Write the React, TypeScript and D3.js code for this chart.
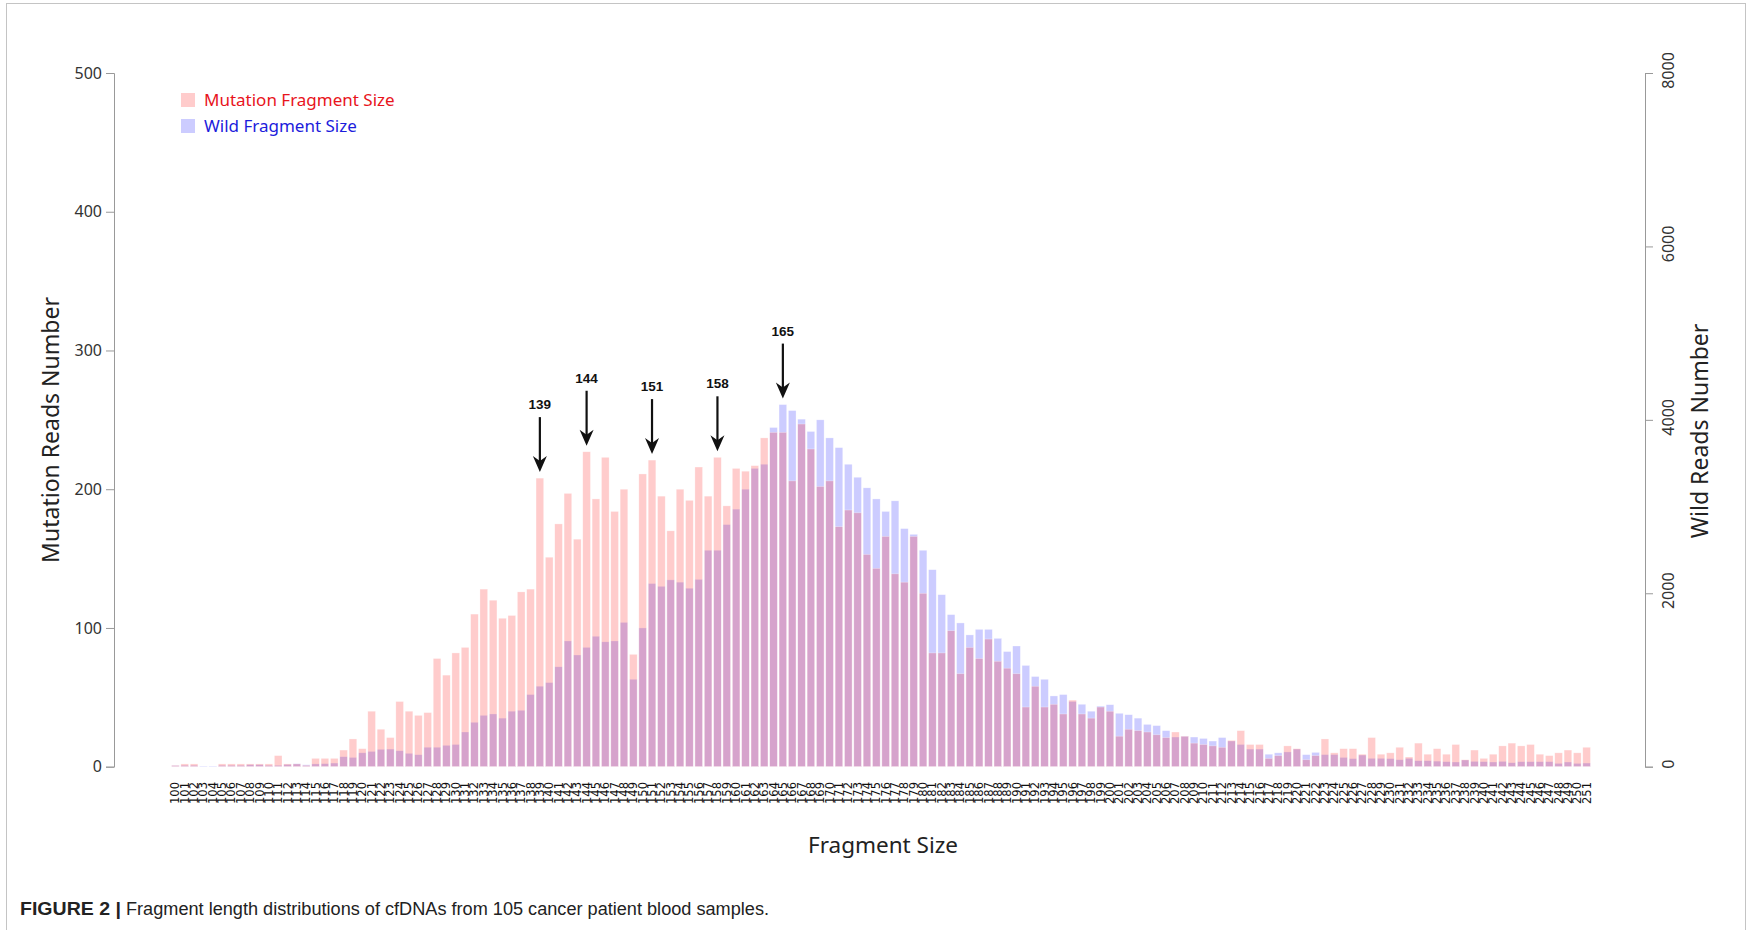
import React, { useEffect, useRef } from "react";
import * as d3 from "d3";

// fragment sizes 100..251
const sizes = [
  100, 101, 102, 103, 104, 105, 106, 107, 108, 109,
  110, 111, 112, 113, 114, 115, 116, 117, 118, 119,
  120, 121, 122, 123, 124, 125, 126, 127, 128, 129,
  130, 131, 132, 133, 134, 135, 136, 137, 138, 139,
  140, 141, 142, 143, 144, 145, 146, 147, 148, 149,
  150, 151, 152, 153, 154, 155, 156, 157, 158, 159,
  160, 161, 162, 163, 164, 165, 166, 167, 168, 169,
  170, 171, 172, 173, 174, 175, 176, 177, 178, 179,
  180, 181, 182, 183, 184, 185, 186, 187, 188, 189,
  190, 191, 192, 193, 194, 195, 196, 197, 198, 199,
  200, 201, 202, 203, 204, 205, 206, 207, 208, 209,
  210, 211, 212, 213, 214, 215, 216, 217, 218, 219,
  220, 221, 222, 223, 224, 225, 226, 227, 228, 229,
  230, 231, 232, 233, 234, 235, 236, 237, 238, 239,
  240, 241, 242, 243, 244, 245, 246, 247, 248, 249,
  250, 251,
];

// left axis (0-500)
const mutationReads = [
  1, 2, 2, 0, 0, 2, 2, 2, 2, 2,
  2, 8, 2, 2, 1, 6, 6, 6, 12, 20,
  13, 40, 27, 21, 47, 40, 37, 39, 78, 66,
  82, 86, 110, 128, 120, 107, 109, 126, 128, 208,
  151, 175, 197, 164, 227, 193, 223, 184, 200, 81,
  211, 221, 195, 170, 200, 192, 216, 195, 223, 188,
  215, 213, 217, 237, 241, 241, 206, 247, 229, 202,
  206, 173, 185, 183, 153, 143, 166, 139, 133, 166,
  125, 82, 82, 98, 67, 86, 78, 92, 76, 71,
  67, 43, 58, 43, 45, 38, 48, 38, 35, 43,
  40, 22, 27, 26, 25, 23, 21, 25, 22, 17,
  16, 15, 14, 19, 26, 16, 16, 6, 8, 15,
  13, 5, 8, 20, 10, 13, 13, 9, 21, 9,
  10, 14, 7, 17, 9, 13, 9, 16, 5, 12,
  6, 9, 15, 17, 15, 16, 9, 8, 10, 12,
  10, 14,
];

// right axis (0-8000)
const wildReads = [
  16, 16, 16, 8, 8, 16, 16, 16, 24, 24,
  16, 16, 27, 35, 22, 32, 35, 42, 115, 107,
  160, 176, 200, 203, 184, 154, 138, 224, 224, 246,
  256, 400, 512, 592, 608, 560, 640, 650, 832, 928,
  970, 1152, 1450, 1288, 1376, 1504, 1440, 1450, 1664, 1008,
  1600, 2112, 2080, 2154, 2128, 2058, 2160, 2496, 2496, 2792,
  2970, 3200, 3440, 3488, 3912, 4176, 4107, 4008, 3866, 4000,
  3792, 3680, 3488, 3338, 3216, 3088, 2944, 3066, 2746, 2680,
  2496, 2272, 1984, 1754, 1658, 1520, 1584, 1584, 1480, 1328,
  1392, 1168, 1040, 1008, 816, 832, 752, 720, 640, 699,
  715, 616, 600, 560, 488, 474, 416, 342, 352, 342,
  326, 296, 336, 296, 256, 203, 203, 144, 160, 170,
  203, 139, 165, 139, 139, 107, 93, 134, 96, 96,
  93, 80, 96, 69, 69, 64, 58, 54, 77, 61,
  58, 54, 61, 46, 58, 58, 58, 58, 38, 54,
  38, 42,
];

const peakSizes = [139, 144, 151, 158, 165];
const mutTicks = [0, 100, 200, 300, 400, 500];
const wildTicks = [0, 2000, 4000, 6000, 8000];

const W = 1752;
const H = 930;
const sans = "'Noto Sans', 'Open Sans', sans-serif";
const mutFill = "rgba(255,0,0,0.2)";
const wildFill = "rgba(0,0,255,0.2)";

function App() {
  const leftRef = useRef<SVGGElement>(null);
  const rightRef = useRef<SVGGElement>(null);

  const x = d3
    .scaleBand<number>()
    .domain(sizes)
    .range([170.7, 1591.3])
    .paddingInner(0.18)
    .paddingOuter(0.09);
  const yMut = d3.scaleLinear().domain([0, 500]).range([766.7, 73]);
  const yWild = d3.scaleLinear().domain([0, 8000]).range([766.7, 73]);

  useEffect(() => {
    const left = d3.select(leftRef.current!);
    left.call(d3.axisLeft(yMut).tickValues(mutTicks).tickSize(8).tickPadding(4));
    left.select(".domain").attr("stroke", "#999");
    left.selectAll(".tick line").attr("stroke", "#999");
    left
      .selectAll(".tick text")
      .attr("font-size", 16)
      .attr("font-family", sans)
      .attr("fill", "#333");

    const right = d3.select(rightRef.current!);
    right.call(
      d3.axisRight(yWild).tickValues(wildTicks).tickSize(8).tickFormat(d3.format("d"))
    );
    right.select(".domain").attr("stroke", "#999");
    right.selectAll(".tick line").attr("stroke", "#999");
    right
      .selectAll(".tick text")
      .attr("x", 0)
      .attr("y", 0)
      .attr("dy", "0.35em")
      .attr("transform", "translate(23,-3) rotate(-90)")
      .attr("text-anchor", "middle")
      .attr("font-size", 16)
      .attr("font-family", sans)
      .attr("fill", "#333");
  }, []);

  const bw = x.bandwidth();
  const base = yMut(0);

  return (
    <div style={{ position: "absolute", left: 0, top: 0 }}>
      <svg width={W} height={H} style={{ display: "block", background: "#fff" }}>
        <rect x={6.5} y={3.5} width={1739} height={960} fill="none" stroke="#c4c4c4" />

        {/* wild first, mutation on top */}
        <g>
          {sizes.map((s, i) => (
            <rect
              key={"w" + s}
              x={x(s)}
              y={yWild(wildReads[i])}
              width={bw}
              height={base - yWild(wildReads[i])}
              fill={wildFill}
              stroke="rgba(255,255,255,0.5)"
              strokeWidth={0.6}
            />
          ))}
        </g>
        <g>
          {sizes.map((s, i) => (
            <rect
              key={"m" + s}
              x={x(s)}
              y={yMut(mutationReads[i])}
              width={bw}
              height={base - yMut(mutationReads[i])}
              fill={mutFill}
              stroke="rgba(255,255,255,0.5)"
              strokeWidth={0.6}
            />
          ))}
        </g>

        {/* x tick labels */}
        <g fontFamily="'DejaVu Sans', sans-serif" fontSize={11.5} fill="#111">
          {sizes.map((s) => (
            <text
              key={"t" + s}
              transform={`translate(${x(s)! + bw / 2},782) rotate(-90)`}
              textAnchor="end"
              dy="0.35em"
            >
              {s}
            </text>
          ))}
        </g>

        <g ref={leftRef} transform="translate(114,0)" />
        <g ref={rightRef} transform="translate(1645,0)" />

        {/* peak arrows */}
        <g>
          {peakSizes.map((s) => {
            const i = sizes.indexOf(s);
            const cx = x(s)! + bw / 2;
            const top = Math.min(yMut(mutationReads[i]), yWild(wildReads[i]));
            const tip = top - 6;
            const start = tip - 55;
            return (
              <g key={"a" + s}>
                <line x1={cx} x2={cx} y1={start} y2={tip - 8} stroke="#111" strokeWidth={2.2} />
                <path
                  d={`M${cx - 7},${tip - 16} L${cx},${tip} L${cx + 7},${tip - 16} L${cx},${tip - 11} Z`}
                  fill="#111"
                />
                <text
                  x={cx}
                  y={start - 8}
                  textAnchor="middle"
                  fontFamily="'Liberation Sans', Arial, sans-serif"
                  fontWeight="bold"
                  fontSize={13.5}
                  fill="#111"
                >
                  {s}
                </text>
              </g>
            );
          })}
        </g>

        {/* legend */}
        <g fontFamily={sans} fontSize={17}>
          <rect x={181} y={93} width={14} height={14} fill={mutFill} />
          <text x={204} y={105.5} fill="#e8141c">
            Mutation Fragment Size
          </text>
          <rect x={181} y={119} width={14} height={14} fill={wildFill} />
          <text x={204} y={131.5} fill="#1c1cdc">
            Wild Fragment Size
          </text>
        </g>

        {/* axis titles */}
        <text
          transform="translate(51,430) rotate(-90)"
          textAnchor="middle"
          dy="0.35em"
          fontFamily={sans}
          fontSize={23}
          fill="#222"
        >
          Mutation Reads Number
        </text>
        <text
          transform="translate(1700,431) rotate(-90)"
          textAnchor="middle"
          dy="0.35em"
          fontFamily={sans}
          fontSize={23}
          fill="#222"
        >
          Wild Reads Number
        </text>
        <text
          x={883}
          y={853}
          textAnchor="middle"
          fontFamily={sans}
          fontSize={22.5}
          fill="#222"
        >
          Fragment Size
        </text>

        {/* caption */}
        <g fontFamily="'Liberation Sans Narrow', 'Liberation Sans', Arial, sans-serif" fontSize={17.5} fill="#222">
          <text x={20} y={915} fontWeight="bold" textLength={101} lengthAdjust="spacingAndGlyphs">
            FIGURE 2 |
          </text>
          <text x={126} y={915} textLength={643} lengthAdjust="spacingAndGlyphs">
            Fragment length distributions of cfDNAs from 105 cancer patient blood samples.
          </text>
        </g>
      </svg>
    </div>
  );
}

export default App;
